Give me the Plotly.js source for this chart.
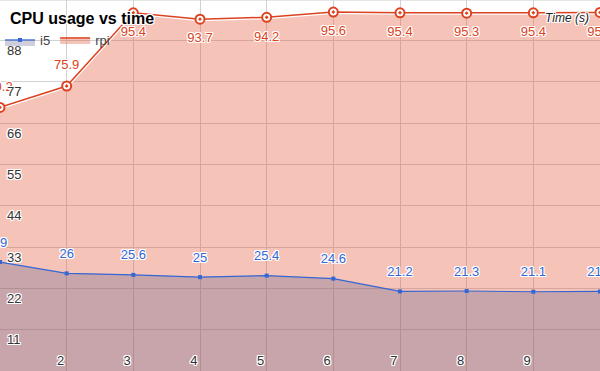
<!DOCTYPE html>
<html>
<head>
<meta charset="utf-8">
<script src="https://cdn.plot.ly/plotly-3.0.1.min.js"></script>
<style>html,body{margin:0;padding:0;background:#fff;}#chart{width:600px;height:371px;}</style>
</head>
<body>
<div id="chart"></div>
<script>
var timeSeconds = [1, 2, 3, 4, 5, 6, 7, 8, 9, 10];
var i5Usage = [29, 26, 25.6, 25, 25.4, 24.6, 21.2, 21.3, 21.1, 21.2];
var rpiUsage = [70.2, 75.9, 95.4, 93.7, 94.2, 95.6, 95.4, 95.3, 95.4, 95.5];
var rpiLabelSide = ["top center", "top center", "bottom center", "bottom center", "bottom center",
                    "bottom center", "bottom center", "bottom center", "bottom center", "bottom center"];
var yTickValues = [11, 22, 33, 44, 55, 66, 77, 88];
var xTickValues = [2, 3, 4, 5, 6, 7, 8, 9];

var FONT = "Liberation Sans, Arial, sans-serif";
var halo = "1px 1px 0 #fff, -1px -1px 0 #fff, 1px -1px 0 #fff, -1px 1px 0 #fff, 0 1px 0 #fff, 0 -1px 0 #fff, 1px 0 0 #fff, -1px 0 0 #fff";
var RED = "rgb(220,66,32)";
var BLUE = "rgb(52,102,212)";

var traces = [
  {
    x: timeSeconds, y: rpiUsage, name: "rpi", type: "scatter", mode: "lines",
    fill: "tozeroy", fillcolor: "rgba(224,72,40,0.33)",
    line: {color: RED, width: 1.5},
    showlegend: true, hoverinfo: "skip", legendrank: 2
  },
  {
    x: timeSeconds, y: rpiUsage, type: "scatter", mode: "lines",
    line: {color: "#fff", width: 4}, showlegend: false, hoverinfo: "skip"
  },
  {
    x: timeSeconds, y: rpiUsage, type: "scatter", mode: "lines+markers",
    line: {color: RED, width: 1.5},
    marker: {symbol: "circle-dot", size: 9, color: "#fff", line: {color: RED, width: 2}},
    showlegend: false, cliponaxis: false, hoverinfo: "skip"
  },
  {
    x: timeSeconds, y: rpiUsage, type: "scatter", mode: "markers+text",
    marker: {size: 20, color: "rgba(0,0,0,0)"},
    text: rpiUsage.map(String), textposition: rpiLabelSide,
    textfont: {family: FONT, size: 13, color: RED, shadow: halo},
    showlegend: false, cliponaxis: false, hoverinfo: "skip"
  },
  {
    x: timeSeconds, y: i5Usage, name: "i5", type: "scatter", mode: "lines+markers",
    fill: "tozeroy", fillcolor: "rgba(95,92,144,0.3)",
    line: {color: BLUE, width: 1.2},
    marker: {symbol: "square", size: 4, color: BLUE},
    legendrank: 1, cliponaxis: false, hoverinfo: "skip"
  },
  {
    x: timeSeconds, y: i5Usage, type: "scatter", mode: "markers+text",
    marker: {size: 18, color: "rgba(0,0,0,0)"},
    text: i5Usage.map(String), textposition: "top center",
    textfont: {family: FONT, size: 13, color: BLUE, shadow: halo},
    showlegend: false, cliponaxis: false, hoverinfo: "skip"
  }
];

var layout = {
  width: 600, height: 371,
  margin: {l: 0, r: 0, t: 0, b: 0, pad: 0},
  paper_bgcolor: "#fff", plot_bgcolor: "#fff",
  font: {family: FONT, size: 13, color: "#333"},
  title: {
    text: "<b>CPU usage vs time</b>",
    font: {family: FONT, size: 16, color: "#000", shadow: halo},
    x: 10 / 600, xanchor: "left", xref: "paper",
    y: 1 - 18 / 371, yanchor: "middle", yref: "paper",
    automargin: false
  },
  showlegend: true,
  legend: {
    orientation: "h", x: 0, xanchor: "left", y: 1 - 40 / 371, yanchor: "middle",
    bgcolor: "rgba(0,0,0,0)", font: {family: FONT, size: 13, color: "#444"},
    traceorder: "normal", itemwidth: 30
  },
  xaxis: {
    range: [1, 10], tickvals: xTickValues, ticktext: xTickValues.map(String),
    showgrid: true, gridcolor: "#d2d2d2", gridwidth: 1, zeroline: false,
    showline: true, linecolor: "#333", linewidth: 1,
    ticks: "", ticklabelposition: "inside left", ticklabelshift: -2,
    tickfont: {family: FONT, size: 13, color: "#333", shadow: halo},
    fixedrange: true, automargin: false
  },
  yaxis: {
    range: [0, 98.8], tickvals: yTickValues, ticktext: yTickValues.map(String),
    showgrid: true, gridcolor: "#d2d2d2", gridwidth: 1, zeroline: false,
    showline: false, ticks: "", ticklabelposition: "inside",
    ticklabelshift: 10, ticklabelstandoff: 4,
    tickfont: {family: FONT, size: 13, color: "#333", shadow: halo},
    fixedrange: true, automargin: false
  },
  shapes: [
    {type: "line", xref: "paper", yref: "paper", x0: 0, x1: 1, y0: 1, y1: 1,
     line: {color: "#ccc", width: 1}}
  ],
  annotations: [
    {text: "Time (s)", xref: "paper", yref: "paper", x: 567 / 600, y: 1 - 18 / 371,
     xanchor: "center", yanchor: "middle", showarrow: false,
     font: {family: FONT, size: 12, color: "#222", style: "italic", shadow: halo}}
  ]
};

Plotly.newPlot("chart", traces, layout, {displayModeBar: false, staticPlot: true});
</script>
</body>
</html>
